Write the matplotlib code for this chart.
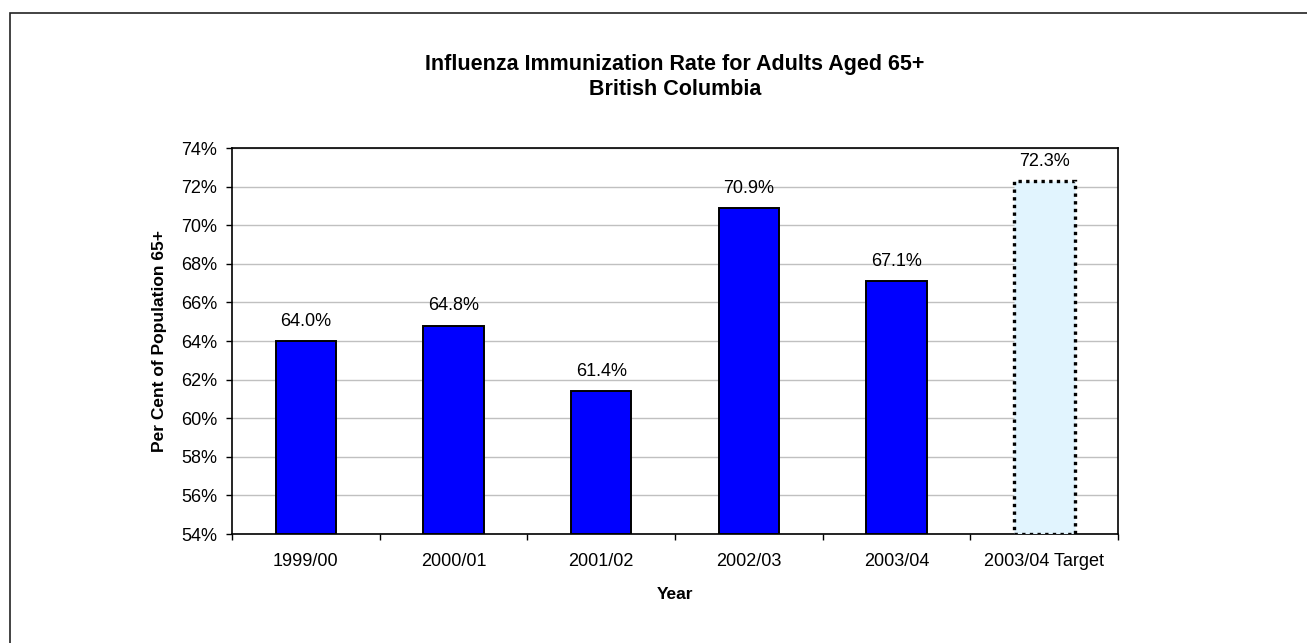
import matplotlib
matplotlib.use("Agg")
import matplotlib.pyplot as plt
from matplotlib.patches import Rectangle
from matplotlib.ticker import MultipleLocator, FuncFormatter

plt.rcParams['font.family'] = ['Liberation Sans', 'DejaVu Sans']

years = ["1999/00", "2000/01", "2001/02", "2002/03", "2003/04", "2003/04 Target"]
rates = [64.0, 64.8, 61.4, 70.9, 67.1, 72.3]
is_target = [False, False, False, False, False, True]

fig = plt.figure(figsize=(13.07, 6.43), dpi=100)
ax = fig.add_axes([0.1775, 0.1695, 0.678, 0.6003])

# outer chart border
fig.patches.append(Rectangle((10 / 1307, -0.1), 1.2, (643 - 13) / 643 + 0.1,
                             transform=fig.transFigure, fill=False,
                             edgecolor="#222222", linewidth=1.2))

base = 54
for i, (lab, v, t) in enumerate(zip(years, rates, is_target)):
    if t:
        ax.bar(i, v - base, bottom=base, width=0.41, color="#e1f4fe",
               edgecolor="black", linewidth=2.4, linestyle=(0, (1, 1.3)), zorder=3)
    else:
        ax.bar(i, v - base, bottom=base, width=0.41, color="#0000ff",
               edgecolor="black", linewidth=1.4, zorder=3)
    ax.annotate(f"{v:.1f}%", (i, v), xytext=(0, 8), textcoords="offset points",
                ha="center", va="bottom", fontsize=13)

ax.set_xlim(-0.5, len(years) - 0.5)
ax.set_ylim(54, 74)
ax.yaxis.set_major_locator(MultipleLocator(2))
ax.yaxis.set_major_formatter(FuncFormatter(lambda y, p: f"{y:.0f}%"))
ax.set_xticks(range(len(years)))
ax.set_xticklabels(years, fontsize=13)
ax.set_xticks([i - 0.5 for i in range(len(years) + 1)], minor=True)
ax.tick_params(axis="x", which="major", length=0, pad=14)
ax.tick_params(axis="x", which="minor", length=4.5, width=1, direction="out")
ax.tick_params(axis="y", labelsize=13, length=4.5, width=1, direction="out", pad=6)
ax.grid(axis="y", color="#c0c0c0", linewidth=1, zorder=0)
ax.set_axisbelow(True)
for s in ax.spines.values():
    s.set_linewidth(1.2)

ax.set_ylabel("Per Cent of Population 65+", fontsize=12.5, fontweight="bold", labelpad=10)
ax.set_xlabel("Year", fontsize=12.5, fontweight="bold", labelpad=12)
ax.set_title("Influenza Immunization Rate for Adults Aged 65+\nBritish Columbia",
             fontsize=15.5, fontweight="bold", pad=38, linespacing=1.25)

fig.savefig("out.png", dpi=100)
